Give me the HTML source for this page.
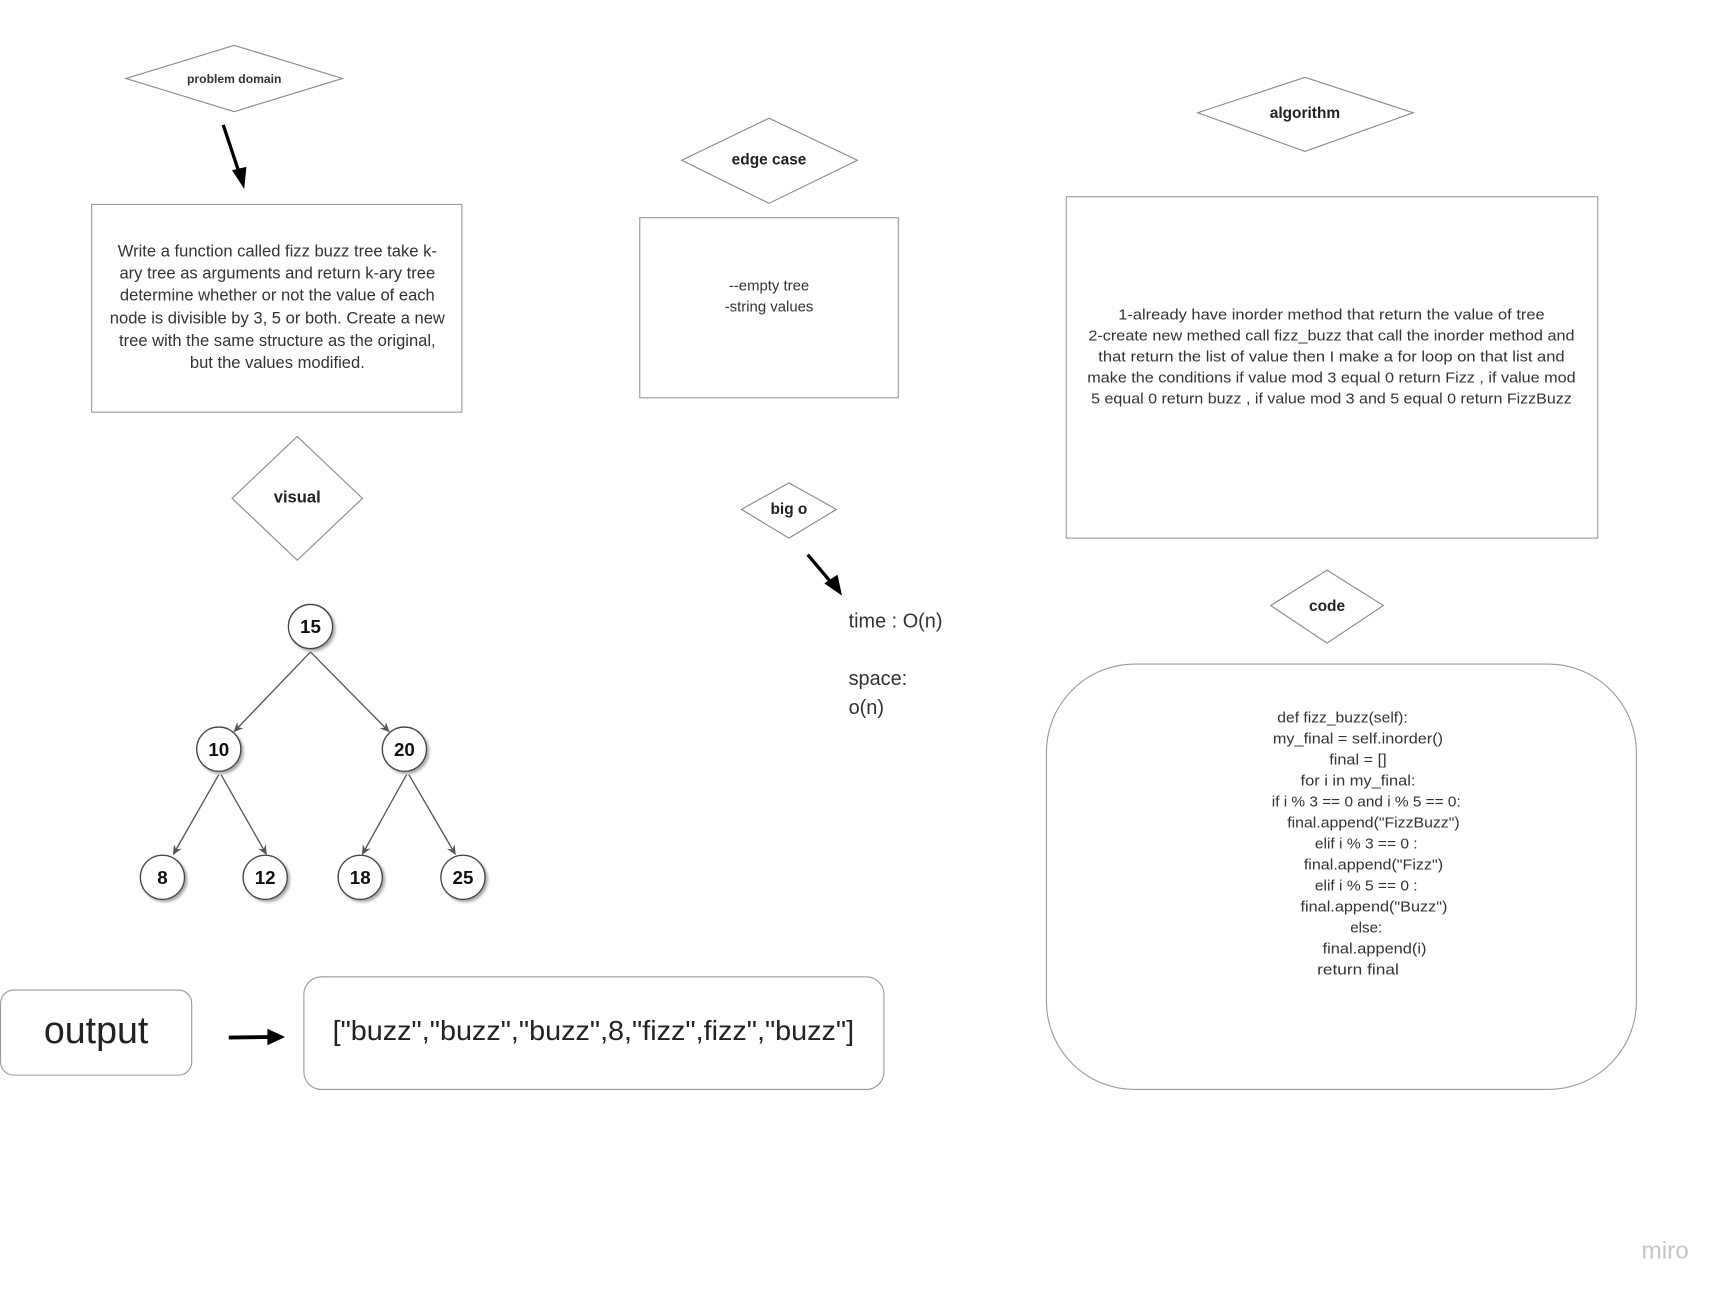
<!DOCTYPE html>
<html><head><meta charset="utf-8"><style>
html,body{margin:0;padding:0;background:#fff;width:1732px;height:1298px;overflow:hidden}
svg{display:block}
text{font-family:"Liberation Sans",sans-serif}
</style></head><body>
<svg width="1732" height="1298" viewBox="0 0 1567.5 1174.7" xmlns="http://www.w3.org/2000/svg">
<defs>
<marker id="ah" markerWidth="10" markerHeight="10" refX="8" refY="5" orient="auto" markerUnits="userSpaceOnUse"><path d="M0,1 L9,5 L0,9 L3,5 z" fill="#555"/></marker>
<filter id="sh" x="-30%" y="-30%" width="160%" height="160%"><feDropShadow dx="2" dy="2" stdDeviation="1.2" flood-color="#888" flood-opacity="0.7"/></filter>
</defs>
<rect width="1568" height="1175" fill="#fff"/>

<!-- problem domain -->
<polygon points="114,71 212,41 310,71 212,101" fill="#fff" stroke="#888" stroke-width="1"/>
<text x="212" y="75" font-size="11" font-weight="bold" text-anchor="middle" fill="#333">problem domain</text>
<line x1="202" y1="113" x2="217" y2="158" stroke="#000" stroke-width="3"/>
<polygon points="210,154 223,151 221,171" fill="#000"/>

<rect x="83" y="185" width="335" height="188" fill="#fff" stroke="#999" stroke-width="1"/>
<g font-size="15" fill="#333" text-anchor="middle">
<text x="251" y="232">Write a function called fizz buzz tree take k-</text>
<text x="251" y="252">ary tree as arguments and return k-ary tree</text>
<text x="251" y="272">determine whether or not the value of each</text>
<text x="251" y="293">node is divisible by 3, 5 or both. Create a new</text>
<text x="251" y="313">tree with the same structure as the original,</text>
<text x="251" y="333">but the values modified.</text>
</g>

<!-- visual -->
<polygon points="210,451 269,395 328,451 269,507" fill="#fff" stroke="#888" stroke-width="1"/>
<text x="269" y="455" font-size="15" font-weight="bold" text-anchor="middle" fill="#222">visual</text>

<!-- tree -->
<g stroke="#555" stroke-width="1.2" marker-end="url(#ah)">
<line x1="281" y1="590" x2="212" y2="662"/>
<line x1="281" y1="590" x2="352" y2="662"/>
<line x1="198" y1="701" x2="157" y2="773"/>
<line x1="200" y1="701" x2="241" y2="773"/>
<line x1="368" y1="701" x2="328" y2="773"/>
<line x1="370" y1="701" x2="412" y2="773"/>
</g>
<g fill="#fff" stroke="#444" stroke-width="1.2" filter="url(#sh)">
<circle cx="281" cy="567" r="20"/>
<circle cx="198" cy="678" r="20"/>
<circle cx="366" cy="678" r="20"/>
<circle cx="147" cy="794" r="20"/>
<circle cx="240" cy="794" r="20"/>
<circle cx="326" cy="794" r="20"/>
<circle cx="419" cy="794" r="20"/>
</g>
<g font-size="17" font-weight="bold" text-anchor="middle" fill="#111">
<text x="281" y="573">15</text>
<text x="198" y="684">10</text>
<text x="366" y="684">20</text>
<text x="147" y="800">8</text>
<text x="240" y="800">12</text>
<text x="326" y="800">18</text>
<text x="419" y="800">25</text>
</g>

<!-- output -->
<rect x="0.5" y="896" width="173" height="77" rx="12" fill="#fff" stroke="#999"/>
<text x="87" y="944" font-size="34" text-anchor="middle" fill="#222">output</text>
<line x1="207" y1="939" x2="245" y2="938.5" stroke="#000" stroke-width="3.5"/>
<polygon points="242,931 258,938.5 242,946" fill="#000"/>
<rect x="275" y="884" width="525" height="102" rx="16" fill="#fff" stroke="#999"/>
<text x="537" y="941" font-size="25" text-anchor="middle" fill="#222" textLength="472" lengthAdjust="spacingAndGlyphs">["buzz","buzz","buzz",8,"fizz",fizz","buzz"]</text>

<!-- edge case -->
<polygon points="617,145 696,107 776,145 696,184" fill="#fff" stroke="#888"/>
<text x="696" y="149" font-size="14" font-weight="bold" text-anchor="middle" fill="#222">edge case</text>
<rect x="579" y="197" width="234" height="163" fill="#fff" stroke="#999"/>
<text x="696" y="263" font-size="13.5" text-anchor="middle" fill="#333">--empty tree</text>
<text x="696" y="282" font-size="13.5" text-anchor="middle" fill="#333">-string values</text>

<!-- big o -->
<polygon points="671,461 714,437 757,461 714,487" fill="#fff" stroke="#888"/>
<text x="714" y="465" font-size="14" font-weight="bold" text-anchor="middle" fill="#222">big o</text>
<line x1="731" y1="502" x2="753" y2="528" stroke="#000" stroke-width="3"/>
<polygon points="746,528 758,520 762,539" fill="#000"/>
<g font-size="18" fill="#333">
<text x="768" y="568">time : O(n)</text>
<text x="768" y="620">space:</text>
<text x="768" y="646">o(n)</text>
</g>

<!-- algorithm -->
<polygon points="1084,102 1181,70 1279,102 1181,137" fill="#fff" stroke="#888"/>
<text x="1181" y="107" font-size="14" font-weight="bold" text-anchor="middle" fill="#222">algorithm</text>
<rect x="965" y="178" width="481" height="309" fill="#fff" stroke="#999"/>
<g font-size="13.5" fill="#333" text-anchor="middle">
<text x="1205" y="289" textLength="386" lengthAdjust="spacingAndGlyphs">1-already have inorder method that return the value of tree</text>
<text x="1205" y="308" textLength="440" lengthAdjust="spacingAndGlyphs">2-create new methed call fizz_buzz that call the inorder method and</text>
<text x="1205" y="327" textLength="422" lengthAdjust="spacingAndGlyphs">that return the list of value then I make a for loop on that list and</text>
<text x="1205" y="346" textLength="442" lengthAdjust="spacingAndGlyphs">make the conditions if value mod 3 equal 0 return Fizz , if value mod</text>
<text x="1205" y="365" textLength="435" lengthAdjust="spacingAndGlyphs">5 equal 0 return buzz , if value mod 3 and 5 equal 0 return FizzBuzz</text>
</g>

<!-- code -->
<polygon points="1150,548 1201,516 1252,548 1201,582" fill="#fff" stroke="#888"/>
<text x="1201" y="553" font-size="14" font-weight="bold" text-anchor="middle" fill="#222">code</text>
<rect x="947" y="601" width="534" height="385" rx="80" fill="#fff" stroke="#999"/>
<g font-size="13.5" fill="#333">
<text x="1156" y="654" textLength="118" lengthAdjust="spacingAndGlyphs">def fizz_buzz(self):</text>
<text x="1152" y="673" textLength="154" lengthAdjust="spacingAndGlyphs">my_final = self.inorder()</text>
<text x="1203" y="692" textLength="52" lengthAdjust="spacingAndGlyphs">final = []</text>
<text x="1177" y="711" textLength="104" lengthAdjust="spacingAndGlyphs">for i in my_final:</text>
<text x="1151" y="730" textLength="171" lengthAdjust="spacingAndGlyphs">if i % 3 == 0 and i % 5 == 0:</text>
<text x="1165" y="749" textLength="156" lengthAdjust="spacingAndGlyphs">final.append("FizzBuzz")</text>
<text x="1190" y="768" textLength="93" lengthAdjust="spacingAndGlyphs">elif i % 3 == 0 :</text>
<text x="1180" y="787" textLength="126" lengthAdjust="spacingAndGlyphs">final.append("Fizz")</text>
<text x="1190" y="806" textLength="93" lengthAdjust="spacingAndGlyphs">elif i % 5 == 0 :</text>
<text x="1177" y="825" textLength="133" lengthAdjust="spacingAndGlyphs">final.append("Buzz")</text>
<text x="1222" y="844" textLength="29" lengthAdjust="spacingAndGlyphs">else:</text>
<text x="1197" y="863" textLength="94" lengthAdjust="spacingAndGlyphs">final.append(i)</text>
<text x="1192" y="882" textLength="74" lengthAdjust="spacingAndGlyphs">return final</text>
</g>

<text x="1507" y="1139" font-size="22" text-anchor="middle" fill="#c4c4c4">miro</text>
</svg>
</body></html>
